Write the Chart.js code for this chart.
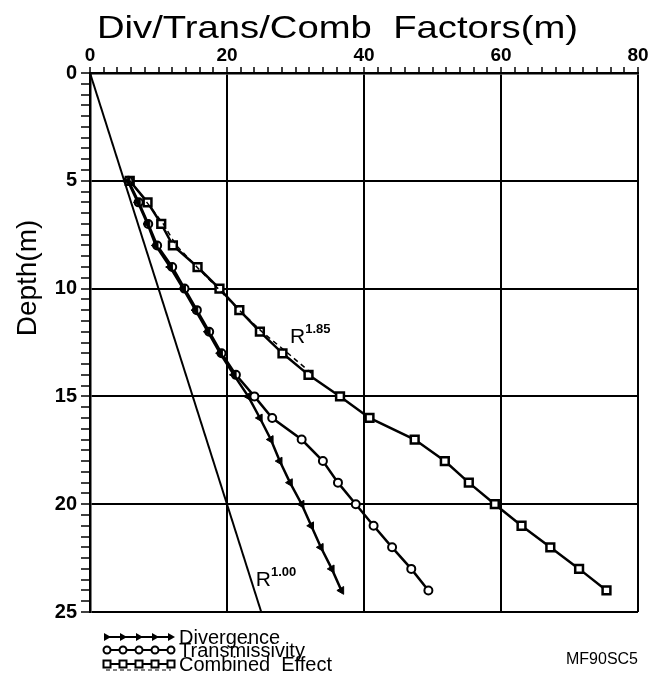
<!DOCTYPE html>
<html>
<head>
<meta charset="utf-8">
<script src="https://cdn.jsdelivr.net/npm/chart.js@4.4.1/dist/chart.umd.min.js"></script>
<style>
  body { margin: 0; background: #fff; }
</style>
</head>
<body>
<canvas id="grafico" width="649" height="685"></canvas>
<script>
// profundidades (m) e fatores
var profundidade = [5, 6, 7, 8, 9, 10, 11, 12, 13, 14, 15, 16, 17, 18, 19, 20, 21, 22, 23, 24];
var divergencia = [5.5, 7.0, 8.4, 9.6, 11.7, 13.6, 15.4, 17.2, 19.0, 21.0, 23.1, 24.8, 26.4, 27.7, 29.2, 30.9, 32.3, 33.7, 35.3, 36.7];
var transmissividade = [5.6, 7.1, 8.5, 9.8, 12.0, 13.8, 15.6, 17.4, 19.2, 21.3, 24.0, 26.6, 30.9, 34.0, 36.2, 38.8, 41.4, 44.1, 46.9, 49.4];
var combinado = [5.8, 8.4, 10.4, 12.1, 15.7, 18.9, 21.8, 24.8, 28.1, 31.9, 36.5, 40.8, 47.4, 51.8, 55.3, 59.1, 63.0, 67.2, 71.4, 75.4];

// curva ajustada R^1.85 (tracejada)
var profAjuste = [5, 6, 7, 8, 9, 10, 11, 12, 13, 14];
var ajuste185 = [5.8, 8.3, 10.7, 12.6, 15.6, 18.7, 21.8, 25.1, 28.9, 32.6];

// reta R^1.00
var profReta = [0, 25];
var reta100 = [0, 25];

var rotulosX = [0, 20, 40, 60, 80];
var rotulosY = [0, 5, 10, 15, 20, 25];

function pontos(xs, ys) {
    var lista = [];
    for (var i = 0; i < xs.length; i++) {
        lista.push({ x: xs[i], y: ys[i] });
    }
    return lista;
}

// textos fora do grafico: titulos, legenda, anotacoes
const textosPlugin = {
    id: 'textos',
    afterDraw(chart) {
        const ctx = chart.ctx;
        const sx = chart.scales.x;
        const sy = chart.scales.y;
        ctx.save();
        ctx.fillStyle = '#000';
        ctx.strokeStyle = '#000';

        // titulo de cima, esticado na horizontal
        ctx.font = '32px "Liberation Sans"';
        ctx.textBaseline = 'alphabetic';
        ctx.textAlign = 'left';
        var titulo = 'Div/Trans/Comb  Factors(m)';
        var w = ctx.measureText(titulo).width;
        ctx.save();
        ctx.translate(97, 38);
        ctx.scale(481 / w, 1);
        ctx.fillText(titulo, 0, 0);
        ctx.restore();

        // titulo do eixo y
        ctx.save();
        ctx.translate(36, 278);
        ctx.rotate(-Math.PI / 2);
        ctx.font = '28px "Liberation Sans"';
        ctx.textAlign = 'center';
        ctx.fillText('Depth(m)', 0, 0);
        ctx.restore();

        // anotacoes R^1.85 e R^1.00
        function rotuloR(xv, yv, exp) {
            var px = sx.getPixelForValue(xv);
            var py = sy.getPixelForValue(yv);
            ctx.textAlign = 'left';
            ctx.font = '21px "Liberation Sans"';
            ctx.fillText('R', px, py);
            var wr = ctx.measureText('R').width;
            ctx.font = 'bold 13px "Liberation Sans"';
            ctx.fillText(exp, px + wr, py - 10);
        }
        rotuloR(29.2, 12.5, '1.85');
        rotuloR(24.2, 23.8, '1.00');

        // legenda
        var linhas = [
            { y: 637, texto: 'Divergence', tipo: 'tri' },
            { y: 650, texto: 'Transmissivity', tipo: 'circ' },
            { y: 664, texto: 'Combined  Effect', tipo: 'quad' }
        ];
        linhas.forEach(function (l) {
            ctx.lineWidth = 2;
            ctx.setLineDash([]);
            ctx.beginPath();
            ctx.moveTo(106, l.y);
            ctx.lineTo(171, l.y);
            ctx.stroke();
            if (l.tipo === 'quad') {
                ctx.lineWidth = 1.2;
                ctx.setLineDash([4, 3]);
                ctx.beginPath();
                ctx.moveTo(106, l.y + 6);
                ctx.lineTo(171, l.y + 6);
                ctx.stroke();
                ctx.setLineDash([]);
            }
            for (var k = 0; k < 5; k++) {
                var mx = 107 + k * 16;
                ctx.lineWidth = 2;
                if (l.tipo === 'tri') {
                    ctx.beginPath();
                    ctx.moveTo(mx + 4, l.y);
                    ctx.lineTo(mx - 3, l.y - 4);
                    ctx.lineTo(mx - 3, l.y + 4);
                    ctx.closePath();
                    ctx.fill();
                } else if (l.tipo === 'circ') {
                    ctx.fillStyle = '#fff';
                    ctx.beginPath();
                    ctx.arc(mx, l.y, 3.5, 0, Math.PI * 2);
                    ctx.fill();
                    ctx.stroke();
                    ctx.fillStyle = '#000';
                } else {
                    ctx.fillStyle = '#fff';
                    ctx.fillRect(mx - 3.5, l.y - 3.5, 7, 7);
                    ctx.strokeRect(mx - 3.5, l.y - 3.5, 7, 7);
                    ctx.fillStyle = '#000';
                }
            }
            ctx.font = '20px "Liberation Sans"';
            ctx.textAlign = 'left';
            ctx.textBaseline = 'alphabetic';
            ctx.fillText(l.texto, 179, l.y + 7);
        });

        ctx.font = '16px "Liberation Sans"';
        ctx.textAlign = 'right';
        ctx.textBaseline = 'middle';
        ctx.fillText('MF90SC5', 638, 660);
        ctx.restore();
    }
};

function corGrade(ctx, passo) {
    if (!ctx.tick) return 'rgba(0,0,0,0)';
    var v = ctx.tick.value;
    return Math.abs(v % passo) < 1e-6 ? '#000' : 'rgba(0,0,0,0)';
}

const ctx = document.getElementById('grafico');

var myChart = new Chart(ctx, {
    type: 'line',
    data: {
        datasets: [
            {
                label: 'R1.00',
                data: pontos(reta100, profReta),
                borderColor: '#000',
                borderWidth: 2,
                pointRadius: 0
            },
            {
                label: 'R1.85',
                data: pontos(ajuste185, profAjuste),
                borderColor: '#000',
                borderWidth: 1.5,
                borderDash: [5, 4],
                pointRadius: 0
            },
            {
                label: 'Divergence',
                data: pontos(divergencia, profundidade),
                borderColor: '#000',
                backgroundColor: '#000',
                borderWidth: 2.5,
                pointStyle: 'triangle',
                rotation: 150,
                pointRadius: 4.5,
                pointBorderWidth: 1
            },
            {
                label: 'Transmissivity',
                data: pontos(transmissividade, profundidade),
                borderColor: '#000',
                backgroundColor: '#fff',
                borderWidth: 2.5,
                pointStyle: 'circle',
                pointRadius: 4,
                pointBorderWidth: 2
            },
            {
                label: 'Combined Effect',
                data: pontos(combinado, profundidade),
                borderColor: '#000',
                backgroundColor: '#fff',
                borderWidth: 2.5,
                pointStyle: 'rect',
                pointRadius: 5.5,
                pointBorderWidth: 2.5
            }
        ]
    },
    options: {
        responsive: false,
        animation: false,
        devicePixelRatio: 1,
        layout: { padding: { left: 0, top: 0, right: 11, bottom: 73 } },
        plugins: {
            legend: { display: false },
            tooltip: { enabled: false }
        },
        scales: {
            x: {
                type: 'linear',
                position: 'top',
                min: 0,
                max: 80,
                afterFit: function (scale) { scale.height = 73; },
                ticks: {
                    stepSize: 2,
                    autoSkip: false,
                    maxRotation: 0,
                    padding: 0,
                    color: '#000',
                    font: { family: 'Liberation Sans', size: 19, weight: 'bold' },
                    callback: function (v) { return rotulosX.indexOf(v) >= 0 ? String(v) : ''; }
                },
                grid: {
                    color: function (c) { return corGrade(c, 20); },
                    lineWidth: 2,
                    tickColor: '#000',
                    tickLength: 6,
                    tickWidth: 1.5
                },
                border: { display: true, color: '#000', width: 2.5 }
            },
            y: {
                type: 'linear',
                reverse: true,
                min: 0,
                max: 25,
                afterFit: function (scale) { scale.width = 90; },
                ticks: {
                    stepSize: 0.5,
                    autoSkip: false,
                    padding: 4,
                    color: '#000',
                    font: { family: 'Liberation Sans', size: 20, weight: 'bold' },
                    callback: function (v) { return rotulosY.indexOf(v) >= 0 ? String(v) : ''; }
                },
                grid: {
                    color: function (c) { return corGrade(c, 5); },
                    lineWidth: 2,
                    tickColor: '#000',
                    tickLength: 9,
                    tickWidth: 1.5
                },
                border: { display: true, color: '#000', width: 2.5 }
            }
        }
    },
    plugins: [textosPlugin]
});
</script>
</body>
</html>
